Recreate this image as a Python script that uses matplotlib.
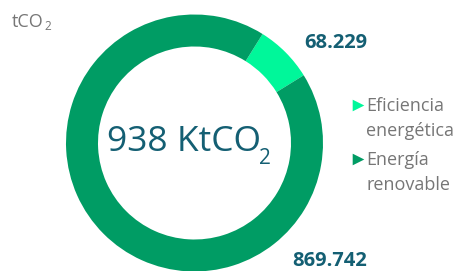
import matplotlib
matplotlib.use("Agg")
import matplotlib.pyplot as plt

categories = ["Eficiencia\nenergética", "Energía\nrenovable"]
values = [68.229, 869.742]
value_labels = ["68.229", "869.742"]
total_label = "938 KtCO"
unit_label = "tCO"

colors = ["#00F79A", "#009C64"]
text_dark = "#145F73"
grey = "#767676"

W, H = 462, 271
fig = plt.figure(figsize=(W / 100, H / 100), dpi=100)
ax = fig.add_axes([0, 0, 1, 1])

cx, cy, R = 194.5, H - 143, 128.5
ax.pie(values, colors=colors, startangle=58, counterclock=False,
       center=(cx, cy), radius=R, wedgeprops=dict(width=32, linewidth=0),
       frame=True)
ax.set_xlim(0, W)
ax.set_ylim(0, H)
ax.set_aspect("equal")
ax.axis("off")

# center text
ax.text(107, H - 142, total_label, fontsize=25.5, family="Open Sans",
        color=text_dark, ha="left", va="center")
ax.text(259, H - 158, "2", fontsize=15, family="Open Sans",
        color=text_dark, ha="left", va="center")

# value labels
ax.text(336, H - 43, value_labels[0], fontsize=14.5, family="Open Sans", fontweight="bold",
        color=text_dark, ha="center", va="center")
ax.text(329.5, H - 261, value_labels[1], fontsize=14.5, family="Open Sans", fontweight="bold",
        color=text_dark, ha="center", va="center")

# unit label
ax.text(12, H - 22, unit_label, fontsize=13, family="Open Sans", color=grey,
        ha="left", va="center")
ax.text(44, H - 26, "2", fontsize=8.5, family="Open Sans", color=grey,
        ha="left", va="center")

# legend
for i, (lab, col) in enumerate(zip(categories, colors)):
    y0 = H - (105 + i * 54)
    ax.scatter([358], [y0], marker=">", s=70, color=col, linewidths=0)
    ax.text(366, y0 - 13.5, lab, fontsize=13, family="Open Sans", color=grey,
            ha="left", va="center", linespacing=1.45)

fig.savefig("out.png", dpi=100)
